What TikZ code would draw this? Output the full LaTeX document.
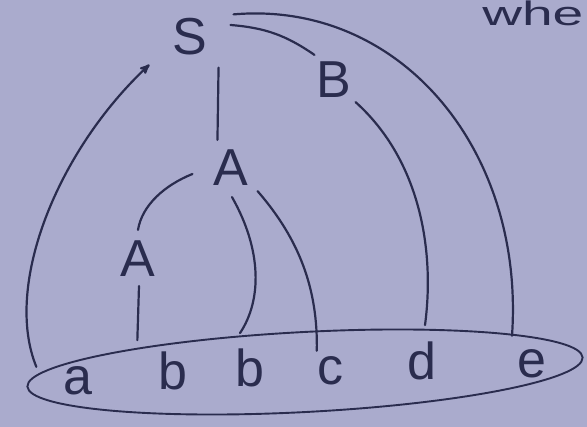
\documentclass[tikz,border=0pt]{standalone}
\usepackage{fontspec}
\setmainfont{Liberation Sans}
\usetikzlibrary{positioning, arrows, shapes.geometric}
\definecolor{paper}{RGB}{170,171,205}
\definecolor{ink}{RGB}{42,44,78}

\begin{document}
\begin{tikzpicture}[x=1pt, y=-1pt]
\tikzset{
    symbol/.style={inner sep=0pt, text=ink, font=\fontsize{52}{52}\selectfont},
    leaf/.style={symbol, anchor=base},
    link/.style={draw=ink, line width=2.2pt, line cap=round},
}
\useasboundingbox (0,0) rectangle (587,427);
\fill [paper] (0,0) rectangle (587,427);

% --- nonterminals ---
\node [
    symbol,
] (S) at (190,37) {S};

\node [
    symbol,
] (B) at (334,80) {B};

\node [
    symbol,
] (A) at (231,168) {A};

\node [
    symbol,
] (Aleft) at (138,259) {A};

% --- terminals ---
\node [leaf] (a) at (78,395) {a};
\node [leaf] (b1) at (173,390) {b};
\node [leaf] (b2) at (250,387) {b};
\node [leaf] (c) at (330,385) {c};
\node [leaf] (d) at (422,380) {d};
\node [leaf] (e) at (532,378) {e};

\node [
    draw=ink,
    line width=1.9pt,
    ellipse,
    minimum width=556pt,
    minimum height=80pt,
    rotate=3,
] (string) at (305,372) {};

% --- margin text ---
\node [
    symbol,
    anchor=base west,
    font=\fontsize{34}{34}\selectfont,
    xscale=1.62,
] (note) at (482,26) {whe};

% --- connections ---
\begin{scope}[link]
\draw ([xshift=11pt,yshift=-12pt]S.south east) -- ([xshift=4pt,yshift=10pt]A.north west);
\draw ([xshift=23pt,yshift=12pt]S.east) to[bend left=15] ([xshift=-2pt,yshift=7pt]B.north west);
\draw ([xshift=26pt,yshift=4pt]S.north east) .. controls (400,0) and (525,150) .. ([xshift=-20pt,yshift=14pt]e.north);

\draw ([xshift=4pt,yshift=-4pt]B.south east) .. controls (420,160) and (435,250) .. ([xshift=3pt,yshift=17pt]d.north);

\draw ([xshift=-21pt,yshift=-6pt]A.west) .. controls (165,185) and (142,205) .. ([yshift=11pt]Aleft.north);
\draw ([xshift=1pt,yshift=-11pt]A.south) .. controls (262,250) and (262,300) .. ([xshift=-10pt,yshift=16pt]b2.north);
\draw ([xshift=9pt,yshift=-5pt]A.south east) .. controls (300,240) and (318,290) .. ([yshift=6pt]c.north west);

\draw ([xshift=1pt,yshift=-9pt]Aleft.south) -- ([xshift=-21pt,yshift=12pt]b1.north west);

\draw [->, >=stealth'] ([xshift=-27pt]a.north west) .. controls (3,285) and (58,150) .. ([xshift=-23pt,yshift=-9pt]S.south west);
\end{scope}

\end{tikzpicture}
\end{document}
